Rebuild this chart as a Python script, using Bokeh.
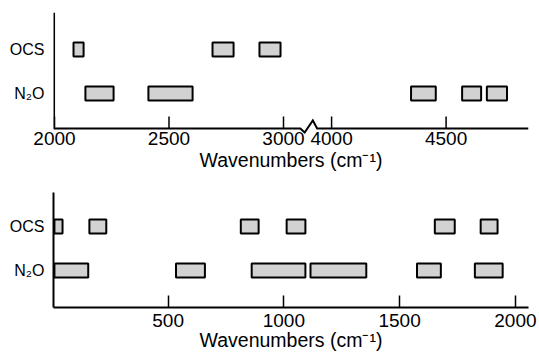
from bokeh.plotting import figure
from bokeh.layouts import column
from bokeh.models import FixedTicker, Range1d, ColumnDataSource
from bokeh.embed import file_html
from bokeh.resources import INLINE

# ---------------- data ----------------
rows = ["N₂O", "OCS"]            # row index 0, 1
axis_title = "Wavenumbers (cm⁻¹)"

# upper panel (axis broken between 3000 and 4000)
top_ocs_start = [2083, 2690, 2895]
top_ocs_end = [2127, 2782, 2987]
top_n2o_start = [2135, 2410, 4347, 4570, 4678]
top_n2o_end = [2258, 2603, 4455, 4653, 4766]
top_ticks = [2000, 2500, 3000, 4000, 4500]

# lower panel
bot_ocs_start = [9, 160, 814, 1012, 1652, 1850]
bot_ocs_end = [44, 233, 891, 1093, 1738, 1923]
bot_n2o_start = [9, 534, 861, 1115, 1575, 1825]
bot_n2o_end = [155, 659, 1093, 1356, 1678, 1945]
bot_ticks = [500, 1000, 1500, 2000]

# ---------------- styling / layout ----------------
FONT = "Liberation Sans"
BAR_FILL = "#d2d2d2"
BAR_H = 0.32
BREAK_LO, BREAK_HI, BREAK_GAP = 3000, 4000, 210   # axis break
SHIFT = BREAK_HI - BREAK_LO - BREAK_GAP


def fold(v):
    return v if v < (BREAK_LO + BREAK_HI) / 2 else v - SHIFT


def style(p):
    p.xgrid.visible = False
    p.ygrid.visible = False
    p.outline_line_color = None
    p.background_fill_color = "white"
    p.border_fill_color = "white"
    for ax in (p.xaxis[0], p.yaxis[0]):
        ax.major_label_text_font = FONT
        ax.major_label_text_color = "black"
        ax.axis_label_text_font = FONT
        ax.axis_label_text_font_style = "normal"
        ax.axis_label_text_color = "black"
        ax.minor_tick_line_color = None
        ax.axis_line_color = "black"
        ax.axis_line_width = 2
    p.yaxis[0].ticker = FixedTicker(ticks=[0, 1])
    p.yaxis[0].major_label_overrides = {0: rows[0], 1: rows[1]}
    p.yaxis[0].major_tick_line_color = None
    p.yaxis[0].major_tick_in = 0
    p.yaxis[0].major_tick_out = 0
    p.yaxis[0].major_label_standoff = 9
    p.yaxis[0].major_label_text_font_size = "16px"
    p.xaxis[0].major_label_text_font_size = "19px"
    p.xaxis[0].axis_label_text_font_size = "19.5px"
    p.xaxis[0].axis_label = axis_title


def bars(p, ocs_s, ocs_e, n2o_s, n2o_e, f=lambda v: v):
    src = ColumnDataSource(dict(
        y=[1] * len(ocs_s) + [0] * len(n2o_s),
        left=[f(v) for v in ocs_s + n2o_s],
        right=[f(v) for v in ocs_e + n2o_e],
    ))
    p.hbar(y="y", left="left", right="right", height=BAR_H, source=src,
           fill_color=BAR_FILL, line_color="black", line_width=2)


# ---------------- upper panel ----------------
PX_PER_Y = 44.0
t_x0, t_x1 = 1995.6, 4069.9
t_y0, t_y1 = -0.977, 1.841
base = -0.795                    # position of the drawn baseline
tick_len = 12 / PX_PER_Y

p1 = figure(width=539, height=180, title=None, output_backend="svg",
            toolbar_location=None, x_range=Range1d(t_x0, t_x1),
            y_range=Range1d(t_y0, t_y1), min_border_left=53,
            min_border_right=11, min_border_top=12, min_border_bottom=44)
style(p1)
bars(p1, top_ocs_start, top_ocs_end, top_n2o_start, top_n2o_end, fold)

# baseline with break zig-zag
g0 = fold(BREAK_LO)
zx = [t_x0, g0 + 0.35 * BREAK_GAP, g0 + 0.44 * BREAK_GAP,
      g0 + 0.61 * BREAK_GAP, g0 + 0.70 * BREAK_GAP, t_x1]
zy = [base, base, base - 4 / PX_PER_Y, base + 8 / PX_PER_Y, base, base]
p1.line(zx, zy, line_color="black", line_width=2, line_join="miter")
tick_pos = [fold(t) for t in top_ticks]
p1.segment(x0=tick_pos, y0=[base] * len(tick_pos), x1=tick_pos,
           y1=[base + tick_len] * len(tick_pos), line_color="black",
           line_width=1.5)
# vertical axis line (ends at baseline)
p1.segment(x0=[t_x0 + 2.4], y0=[base], x1=[t_x0 + 2.4], y1=[t_y1],
           line_color="black", line_width=2)

xa = p1.xaxis[0]
xa.ticker = FixedTicker(ticks=tick_pos)
xa.major_label_overrides = {fold(t): str(t) for t in top_ticks}
xa.axis_line_color = None
xa.major_tick_line_color = None
xa.major_tick_in = 0
xa.major_tick_out = 0
xa.major_label_standoff = -5
xa.axis_label_standoff = 1
p1.yaxis[0].axis_line_color = None

# ---------------- lower panel ----------------
b_x0, b_x1 = 5, 2056.6
b_y0, b_y1 = -0.841, 1.773

p2 = figure(width=539, height=175, title=None, output_backend="svg",
            toolbar_location=None, x_range=Range1d(b_x0, b_x1),
            y_range=Range1d(b_y0, b_y1), min_border_left=53,
            min_border_right=9, min_border_top=12, min_border_bottom=48)
style(p2)
bars(p2, bot_ocs_start, bot_ocs_end, bot_n2o_start, bot_n2o_end)
xb = p2.xaxis[0]
xb.ticker = FixedTicker(ticks=bot_ticks)
xb.major_tick_in = 12
xb.major_tick_out = 0
xb.major_tick_line_color = "black"
xb.major_tick_line_width = 1.5
xb.major_label_standoff = 6
xb.axis_label_standoff = -1

layout = column(p1, p2, spacing=0)
open("out.html", "w").write(file_html(layout, INLINE))
